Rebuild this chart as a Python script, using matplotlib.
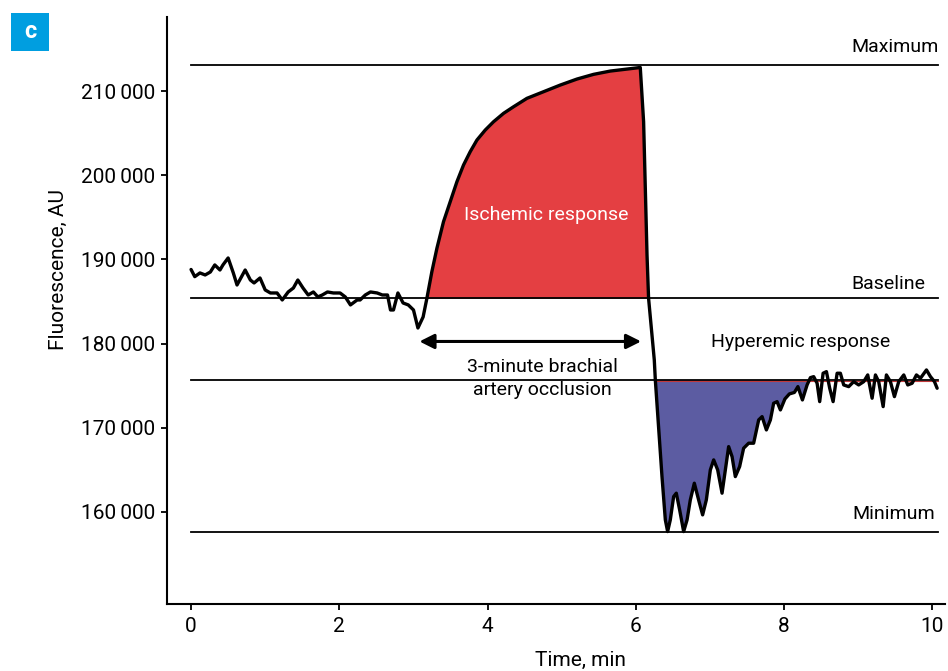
import numpy as np
import matplotlib
matplotlib.use("Agg")
import matplotlib.pyplot as plt
from matplotlib.patches import Rectangle

plt.rcParams['font.family'] = ['Roboto', 'DejaVu Sans']

# ---- data ----
time_min = [
    # pre-occlusion baseline
    0.00, 0.05, 0.12, 0.19, 0.26, 0.32, 0.39, 0.43, 0.50, 0.57, 0.62, 0.73, 0.80, 0.85, 0.93,
    1.00, 1.07, 1.16, 1.23, 1.31, 1.38, 1.44, 1.51, 1.58, 1.65, 1.71, 1.77, 1.84, 1.92, 2.01,
    2.08, 2.15, 2.24, 2.28, 2.35, 2.42, 2.51, 2.58, 2.65, 2.69, 2.73, 2.79, 2.86, 2.93, 3.00,
    3.06, 3.13,
    # ischemic rise
    3.181, 3.248, 3.316, 3.405, 3.495, 3.586, 3.675, 3.765, 3.856, 3.968, 4.080, 4.215, 4.350,
    4.530, 4.754, 4.980, 5.205, 5.429, 5.655, 5.880, 6.059,
    # release
    6.104, 6.127, 6.150, 6.171, 6.248, 6.262, 6.306, 6.352,
    # hyperemia
    6.397, 6.428, 6.464, 6.509, 6.545, 6.590, 6.644, 6.690, 6.734, 6.788, 6.846, 6.900, 6.950,
    7.004, 7.049, 7.103, 7.162, 7.206, 7.251, 7.297, 7.341, 7.399, 7.453, 7.521, 7.588, 7.656,
    7.702, 7.760, 7.814, 7.858, 7.904, 7.949, 8.010, 8.070, 8.138, 8.185, 8.246, 8.309, 8.354,
    8.398, 8.444, 8.479, 8.525, 8.570, 8.614, 8.660, 8.714, 8.758, 8.803, 8.870, 8.938, 9.005,
    9.073, 9.127, 9.186, 9.231, 9.275, 9.335, 9.379, 9.433, 9.487, 9.545, 9.613, 9.667, 9.726,
    9.784, 9.838, 9.919, 9.973, 10.027, 10.063,
]
fluorescence = [
    188800, 187950, 188390, 188150, 188500, 189340, 188740, 189340, 190170, 188390, 186960,
    188740, 187550, 187200, 187790, 186370, 186010, 186010, 185180, 186130, 186600, 187550,
    186600, 185770, 186130, 185540, 185770, 186130, 186010, 186010, 185540, 184590, 185180,
    185180, 185770, 186130, 186010, 185770, 185770, 183990, 183990, 186010, 184820, 184590,
    183990, 181850, 183160,
    185381, 188540, 191319, 194478, 196853, 199228, 201212, 202791, 204181, 205368, 206354,
    207352, 208135, 209133, 209917, 210713, 211425, 211983, 212375, 212613, 212800,
    206354, 198445, 190523, 185381, 178054, 175678, 170132, 164194,
    159052, 157662, 159052, 161819, 162223, 160240, 157662, 159052, 161427, 163410, 161427,
    159646, 161427, 164990, 166178, 164990, 162223, 164990, 167757, 166569, 164194, 165382,
    167567, 168161, 168161, 170928, 171320, 169740, 170928, 172911, 173101, 172116, 173422,
    174016, 174194, 174883, 173303, 175085, 175951, 176070, 175286, 173101, 176474, 176664,
    174693, 173101, 176474, 176474, 175085, 174883, 175476, 175085, 175476, 176272, 173505,
    176272, 175476, 172508, 176272, 175476, 173695, 175476, 176272, 175085, 175286, 176272,
    175880, 176866, 176070, 175476, 174693,
]
level_names = ["Maximum", "Baseline", "Hyperemic", "Minimum"]
level_values = [213090, 185370, 175725, 157625]
y_ticks = [160000, 170000, 180000, 190000, 200000, 210000]
x_ticks = [0, 2, 4, 6, 8, 10]

t = np.array(time_min, dtype=float)
f = np.array(fluorescence, dtype=float)
vmax, vbase, vhyp, vmin = level_values

# ---- figure ----
fig = plt.figure(figsize=(9.48, 6.71), dpi=100)
ax = fig.add_axes([0.1762, 0.1, 0.8207, 0.8747])

red = "#E43F42"
blue = "#5C5CA2"

# fills
ax.fill_between(t, f, vbase, where=(t >= 3.1) & (t <= 6.3) & (f >= vbase),
                interpolate=True, color=red, lw=0, zorder=1)
ax.fill_between(t, f, vhyp, where=(t >= 6.2) & (t <= 8.36) & (f <= vhyp),
                interpolate=True, color=blue, lw=0, zorder=1)

# reference lines
for v in level_values:
    ax.plot([0.0, 10.08], [v, v], color="black", lw=1.3, zorder=2)
ax.plot([6.25, 10.08], [vhyp - 150, vhyp - 150], color="#C0393B", lw=0.8, zorder=2)

# signal
ax.plot(t, f, color="black", lw=2.4, zorder=3, solid_joinstyle="round",
        solid_capstyle="round")

# arrow
ax.annotate("", xy=(3.08, 180250), xytext=(6.07, 180250),
            arrowprops=dict(arrowstyle="<|-|>", color="black", lw=2.2,
                            mutation_scale=22, shrinkA=0, shrinkB=0), zorder=4)

fs = 14
ax.text(10.08, 215225, "Maximum", ha="right", va="center", fontsize=fs)
ax.text(9.906, 187030, "Baseline", ha="right", va="center", fontsize=fs)
ax.text(8.22, 180240, "Hyperemic response", ha="center", va="center", fontsize=fs)
ax.text(10.03, 159760, "Minimum", ha="right", va="center", fontsize=fs)
ax.text(4.79, 195300, "Ischemic response", ha="center", va="center", fontsize=fs,
        color="white")
ax.text(4.737, 175843, "3-minute brachial\nartery occlusion", ha="center", va="center",
        fontsize=fs, linespacing=1.3)

# axes styling
ax.set_xlim(-0.324, 10.17)
ax.set_ylim(149070, 218800)
ax.set_xticks(x_ticks)
ax.set_xticklabels([str(x) for x in x_ticks])
ax.set_yticks(y_ticks)
ax.set_yticklabels([f"{v // 1000}\u2009000" for v in y_ticks])
ax.tick_params(labelsize=15, length=4.5, width=1.3)
ax.tick_params(axis="y", pad=4)
ax.tick_params(axis="x", pad=5)
for s in ["top", "right"]:
    ax.spines[s].set_visible(False)
for s in ["left", "bottom"]:
    ax.spines[s].set_linewidth(1.5)

ax.set_xlabel("Time, min", fontsize=15)
ax.set_ylabel("Fluorescence, AU", fontsize=15)
ax.xaxis.label.set_va("center")
ax.yaxis.label.set_va("center")
ax.xaxis.set_label_coords(0.531, -0.0954)
ax.yaxis.set_label_coords(-0.140, 0.569)

# panel label
fig.patches.append(Rectangle((11 / 948, 1 - 51 / 671), 38 / 948, 38 / 671,
                             transform=fig.transFigure, facecolor="#009EE0",
                             edgecolor="none"))
fig.text(30 / 948, 1 - 32 / 671, "c", ha="center", va="center", color="white",
         fontsize=17, fontweight="bold")

fig.savefig("out.png", dpi=100)
